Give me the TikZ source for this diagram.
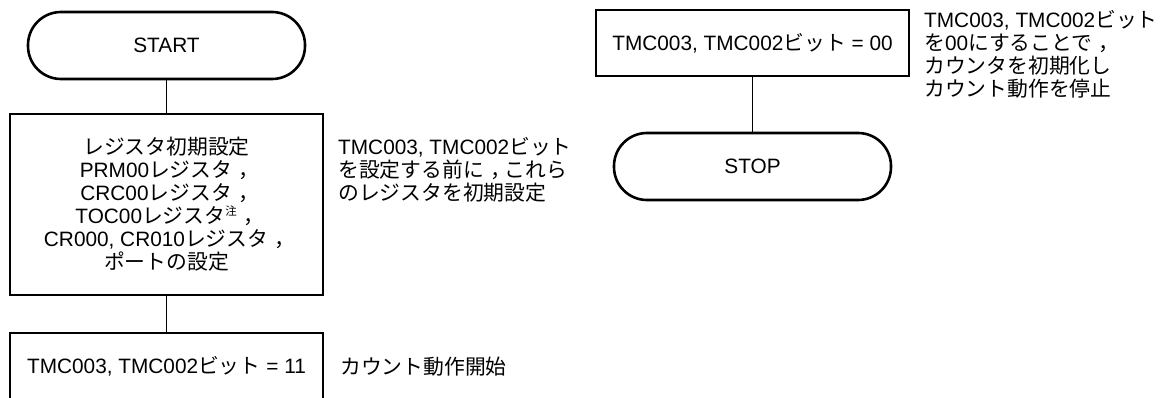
\documentclass[tikz,border=0pt]{standalone}
\usepackage{fontspec}
\setmainfont{Liberation Sans}
\newfontfamily\jp{Noto Sans CJK JP}
\newcommand\zc{{\jp\kern0.3em，\kern-0.3em}}
\newcommand\chu{\raisebox{0.38em}{\fontsize{11.5}{11.5}\selectfont\jp 注}}
\begin{document}
\begin{tikzpicture}[x=1pt,y=-1pt,
  every node/.style={font=\fontsize{20.8}{23}\selectfont, inner sep=0pt},
  term/.style={draw, line width=2.6pt, rounded corners=33pt, minimum width=277pt, minimum height=67pt},
  proc/.style={draw, line width=2.6pt, minimum width=313pt, align=center},
  note/.style={align=left, anchor=west},
  conn/.style={line width=1pt}]
\useasboundingbox (0,0) rectangle (1161,398);
\clip (0,0) rectangle (1161,398);
% left column
\node[term] (start) at (166.5,45.5) {START};
\node[proc, minimum height=181pt] (init) at (166.5,204.5)
  {{\jp レジスタ初期設定}\\PRM00{\jp レジスタ}\zc\\CRC00{\jp レジスタ}\zc\\TOC00{\jp レジスタ}\chu\zc\\CR000, CR010{\jp レジスタ}\zc\\{\jp ポートの設定}};
\node[proc, minimum height=67pt] (run) at (166.5,366.5) {TMC003, TMC002{\jp ビット} = 11};
\node[note] (n1) at (338,170) {TMC003, TMC002{\jp ビット}\\{\jp を設定する前に}\zc{\jp これら}\\{\jp のレジスタを初期設定}};
\node[note] (n3) at (340,366.5) {{\jp カウント動作開始}};
% right column
\node[proc, minimum height=66pt] (clr) at (752.5,43) {TMC003, TMC002{\jp ビット} = 00};
\node[term] (stop) at (752.5,166.5) {STOP};
\node[note] (n2) at (924,54.5) {TMC003, TMC002{\jp ビット}\\{\jp を}00{\jp にすることで}\zc\\{\jp カウンタを初期化し}\\{\jp カウント動作を停止}};
% connectors
\draw[conn] (start.south) -- (init.north);
\draw[conn] (init.south) -- (run.north);
\draw[conn] (clr.south) -- (stop.north);
\end{tikzpicture}
\end{document}
